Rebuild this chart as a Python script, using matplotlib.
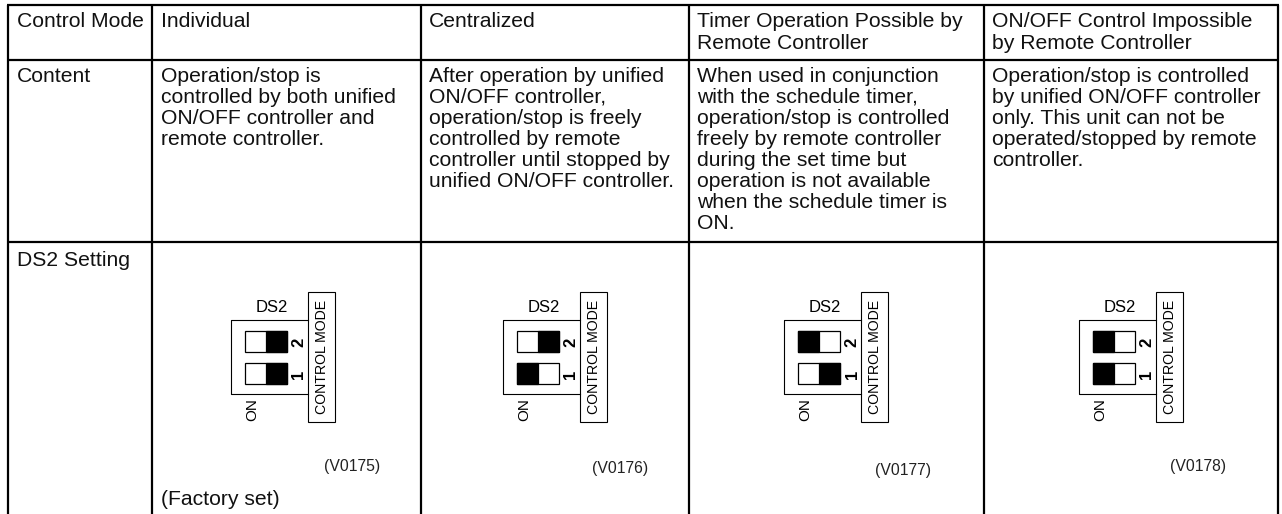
import matplotlib
matplotlib.use("Agg")
import matplotlib.pyplot as plt
from matplotlib.patches import Rectangle

plt.rcParams['font.family'] = ['Liberation Sans', 'DejaVu Sans']

W, H = 1282, 514

col_lines = [7.5, 152, 421, 689, 984, 1278]
row_lines = [5, 60, 242, 514]
text_x = [161, 429, 697, 992]

row_labels = ["Control Mode", "Content", "DS2 Setting"]
headers = ["Individual", "Centralized",
           "Timer Operation Possible by\nRemote Controller",
           "ON/OFF Control Impossible\nby Remote Controller"]
contents = ["Operation/stop is\ncontrolled by both unified\nON/OFF controller and\nremote controller.",
            "After operation by unified\nON/OFF controller,\noperation/stop is freely\ncontrolled by remote\ncontroller until stopped by\nunified ON/OFF controller.",
            "When used in conjunction\nwith the schedule timer,\noperation/stop is controlled\nfreely by remote controller\nduring the set time but\noperation is not available\nwhen the schedule timer is\nON.",
            "Operation/stop is controlled\nby unified ON/OFF controller\nonly. This unit can not be\noperated/stopped by remote\ncontroller."]
codes = ["(V0175)", "(V0176)", "(V0177)", "(V0178)"]
# which side of each switch is black: (switch 2, switch 1)
switch_black = [("right", "right"), ("right", "left"), ("left", "right"), ("left", "left")]
diagram_x = [231, 503, 784, 1079]
code_x = [352, 620.5, 903, 1198]
code_y = [466, 469, 470, 467]

fig = plt.figure(figsize=(W / 100, H / 100), dpi=100)
ax = fig.add_axes([0, 0, 1, 1])
ax.set_xlim(0, W)
ax.set_ylim(H, 0)
ax.axis('off')

for x in col_lines:
    ax.plot([x, x], [row_lines[0], row_lines[-1]], color='black', lw=1.6, solid_capstyle='butt')
for y in row_lines[:-1]:
    ax.plot([col_lines[0] - 1, col_lines[-1] + 1], [y, y], color='black', lw=1.6, solid_capstyle='butt')

FS = 15.2
LS = 1.13


def txt(x, y, s, **kw):
    kw.setdefault('fontsize', FS)
    kw.setdefault('va', 'top')
    kw.setdefault('ha', 'left')
    kw.setdefault('linespacing', LS)
    ax.text(x, y, s, color='#111111', **kw)


txt(17, 12, row_labels[0])
txt(17, 67, row_labels[1])
txt(17, 251, row_labels[2])

for x, h, c in zip(text_x, headers, contents):
    txt(x, 12, h, linespacing=1.2)
    txt(x, 67, c)

txt(161, 490, "(Factory set)")


def diagram(x0, y0, black):
    # x0,y0 = top left of the housing
    ax.plot([x0 + 77, x0, x0, x0 + 77], [y0, y0, y0 + 74, y0 + 74], color='black', lw=0.8)
    ax.add_patch(Rectangle((x0 + 77, y0 - 28), 27, 130, fc='white', ec='black', lw=0.8))
    ax.text(x0 + 91, y0 + 37, "CONTROL MODE", rotation=90, ha='center', va='center', fontsize=10.2)
    ax.text(x0 + 41, y0 - 13, "DS2", ha='center', va='center', fontsize=12, fontstretch='condensed')
    ax.text(x0 + 21.5, y0 + 90, "ON", rotation=90, ha='center', va='center', fontsize=11)
    for sw_y, side, num in zip([y0 + 11, y0 + 43], black, ["2", "1"]):
        ax.add_patch(Rectangle((x0 + 14, sw_y), 42, 21, fc='white', ec='black', lw=0.9))
        bx = x0 + 35 if side == "right" else x0 + 14
        ax.add_patch(Rectangle((bx, sw_y), 21, 21, fc='black', ec='black', lw=0.9))
        ax.text(x0 + 68, sw_y + 11, num, rotation=90, ha='center', va='center',
                fontsize=12, fontweight='bold')


for x, black, code, cx, cy in zip(diagram_x, switch_black, codes, code_x, code_y):
    diagram(x, 320, black)
    ax.text(cx, cy, code, ha='center', va='center', fontsize=11.3, color='#222222')

fig.savefig("out.png", dpi=100)
